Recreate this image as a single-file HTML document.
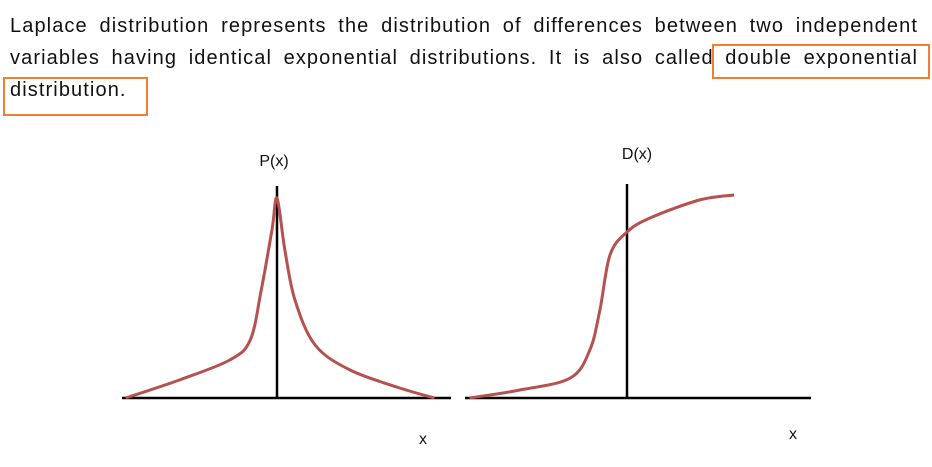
<!DOCTYPE html>
<html><head><meta charset="utf-8">
<style>
body{margin:0;width:932px;height:467px;background:#fff;overflow:hidden;position:relative;font-family:"Liberation Sans",sans-serif}
.ln{position:absolute;left:10px;width:908px;font-size:20px;letter-spacing:1.1px;line-height:32px;color:#111;white-space:nowrap}
.j{text-align:justify;text-align-last:justify;white-space:normal}
.box{position:absolute;border:2px solid #f08030}
svg{position:absolute;left:0;top:0}
</style></head><body>
<div>
<div class="ln j" style="top:10px">Laplace distribution represents the distribution of differences between two independent</div>
<div class="ln j" style="top:42px">variables having identical exponential distributions. It is also called double exponential</div>
<div class="ln" style="top:74px">distribution.</div>
</div>
<div class="box" style="left:712px;top:44px;width:214px;height:31px"></div>
<div class="box" style="left:3px;top:77px;width:141px;height:35px"></div>
<svg id="chart" width="932" height="467"></svg>
<script>
const pdfX=[-4.8,-3.1,-1.5,-0.85,-0.5,-0.16,0,0.25,0.57,1.21,2.32,3.9,5.0];
const pdfY=[0,0.09,0.19,0.29,0.54,0.84,1.0,0.74,0.49,0.265,0.14,0.05,0];
const cdfX=[-5.0,-3.4,-1.8,-1.18,-0.86,-0.54,0,0.73,2.3,3.4];
const cdfY=[0,0.04,0.1,0.24,0.44,0.715,0.83,0.9,0.99,1.015];
const svg=document.getElementById('chart');const NS='http://www.w3.org/2000/svg';
function mk(t,a){const e=document.createElementNS(NS,t);for(const k in a)e.setAttribute(k,a[k]);svg.appendChild(e);return e;}
function yS(v){return 398-v*200;}
function path(xs,ys,cx){const p=xs.map((x,i)=>[cx+x*31.5,yS(ys[i])]);let d='M'+p[0][0]+','+p[0][1];
for(let i=0;i<p.length-1;i++){const p0=p[Math.max(0,i-1)],p1=p[i],p2=p[i+1],p3=p[Math.min(p.length-1,i+2)];
d+=' C'+(p1[0]+(p2[0]-p0[0])/6)+','+(p1[1]+(p2[1]-p0[1])/6)+' '+(p2[0]-(p3[0]-p1[0])/6)+','+(p2[1]-(p3[1]-p1[1])/6)+' '+p2[0]+','+p2[1];}return d;}
function panel(cx,x0,x1,top,xs,ys,title,tx,ty,lx,ly,n){
let e=mk('line',{x1:x0,y1:398,x2:x1,y2:398,stroke:'#000','stroke-width':2.5});

e=mk('line',{x1:cx,y1:top,x2:cx,y2:399,stroke:'#000','stroke-width':2.5});

e=mk('path',{d:path(xs,ys,cx),fill:'none',stroke:'#b5514f','stroke-width':3});

e=mk('text',{x:tx,y:ty,'font-size':16,'text-anchor':'middle',fill:'#111'});e.textContent=title;

e=mk('text',{x:lx,y:ly,'font-size':16,'text-anchor':'middle',fill:'#111'});e.textContent='x';
}
panel(277,122,451,186,pdfX,pdfY,'P(x)',274,166,423,444,'pdf');
panel(627,465,811,184,cdfX,cdfY,'D(x)',637,159,793,439,'cdf');
</script>
</body></html>
